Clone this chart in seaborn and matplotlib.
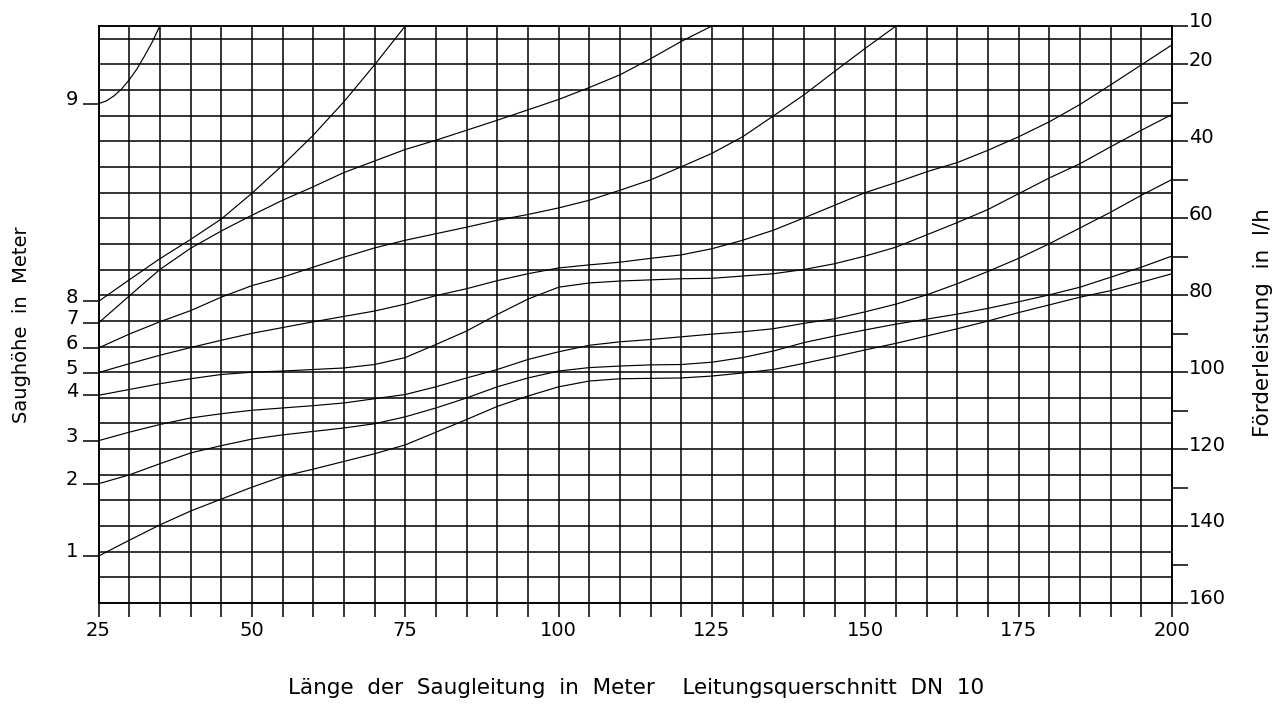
import matplotlib
matplotlib.use("Agg")
import matplotlib.pyplot as plt
import numpy as np
import pandas as pd
import seaborn as sns

# Pipe length in metres (x axis)
laenge = [25, 30, 35, 40, 45, 50, 55, 60, 65, 70, 75, 80, 85, 90, 95, 100,
          105, 110, 115, 120, 125, 130, 135, 140, 145, 150, 155, 160, 165,
          170, 175, 180, 185, 190, 195, 200]

# Delivery rate in l/h for each suction height (1 m ... 9 m)
foerder_1 = [147.8, 143.7, 139.7, 136.1, 133.0, 129.9, 127.1, 125.2, 123.2,
             121.2, 118.9, 115.6, 112.3, 108.9, 106.2, 103.8, 102.3, 101.7,
             101.6, 101.5, 101.0, 100.2, 99.3, 97.7, 96.0, 94.2, 92.5, 90.6,
             88.7, 86.7, 84.5, 82.5, 80.5, 78.8, 76.6, 74.4]
foerder_2 = [129.0, 126.7, 123.8, 121.0, 119.1, 117.4, 116.3, 115.4, 114.5,
             113.4, 111.6, 109.3, 106.7, 103.8, 101.5, 99.7, 98.8, 98.4,
             98.1, 98.0, 97.4, 96.2, 94.5, 92.3, 90.6, 89.0, 87.5, 86.2,
             84.9, 83.4, 81.7, 79.9, 77.9, 75.3, 72.7, 69.8]
foerder_3 = [117.8, 115.6, 113.6, 111.9, 110.8, 109.9, 109.3, 108.7, 108.0,
             106.9, 105.8, 103.8, 101.5, 99.3, 96.7, 94.7, 93.0, 92.1, 91.5,
             90.8, 90.1, 89.5, 88.7, 87.3, 86.1, 84.3, 82.3, 79.9, 77.0,
             73.8, 70.4, 66.6, 62.5, 58.4, 54.0, 49.9]
foerder_4 = [106.0, 104.5, 103.0, 101.7, 100.6, 100.0, 99.7, 99.3, 98.9,
             98.0, 96.2, 92.8, 89.3, 85.0, 81.0, 77.9, 76.8, 76.3, 76.0,
             75.7, 75.6, 75.0, 74.4, 73.3, 71.8, 69.8, 67.5, 64.3, 61.1,
             57.7, 53.6, 49.5, 45.8, 41.4, 37.1, 33.0]
foerder_5 = [100.1, 97.8, 95.6, 93.6, 91.7, 89.9, 88.4, 86.9, 85.5, 84.1,
             82.3, 80.1, 78.3, 76.2, 74.4, 72.9, 72.1, 71.4, 70.4, 69.5,
             67.9, 65.7, 63.1, 59.9, 56.6, 53.3, 50.7, 47.9, 45.5, 42.3,
             38.8, 34.9, 30.4, 25.3, 20.1, 14.9]
foerder_6 = [93.7, 90.1, 86.9, 84.0, 80.5, 77.5, 75.3, 72.7, 70.1, 67.7,
             65.7, 64.0, 62.3, 60.5, 59.0, 57.3, 55.3, 52.7, 50.0, 46.6,
             43.1, 38.8, 33.4, 27.9, 21.8, 15.8, 10.0]
foerder_7 = [87.2, 80.2, 73.3, 67.8, 63.3, 59.2, 55.3, 51.8, 48.1, 45.1,
             42.1, 39.7, 37.1, 34.5, 31.8, 29.1, 26.0, 22.7, 18.5, 14.0, 10.0]
foerder_8 = [81.6, 76.0, 70.5, 65.5, 60.2, 53.5, 46.2, 38.4, 29.7, 20.1, 10.0]
laenge_9 = [25, 26.25, 27.5, 28.75, 30, 31.25, 32.5, 33.75, 35]
foerder_9 = [30.2, 29.5, 28.2, 26.4, 24.0, 21.2, 17.8, 14.2, 10.0]

hoehen = [1, 2, 3, 4, 5, 6, 7, 8, 9]
kurven = [foerder_1, foerder_2, foerder_3, foerder_4, foerder_5,
          foerder_6, foerder_7, foerder_8, foerder_9]

# Right-hand scale and x tick labels
foerder_ticks = [10, 20, 30, 40, 50, 60, 70, 80, 90, 100, 110, 120, 130, 140, 150, 160]
foerder_labels = ["10", "20", "", "40", "", "60", "", "80", "", "100", "", "120",
                  "", "140", "", "160"]
laenge_labels = [25, 50, 75, 100, 125, 150, 175, 200]

frames = []
for h, werte in zip(hoehen, kurven):
    xs = laenge_9 if h == 9 else laenge[:len(werte)]
    frames.append(pd.DataFrame({"laenge": xs, "foerder": werte, "hoehe": h}))
df = pd.concat(frames, ignore_index=True)

sns.set_theme(style="white")
plt.rcParams["font.family"] = ["DejaVu Sans"]
plt.rcParams["text.color"] = "black"

W, H = 1275, 704
fig = plt.figure(figsize=(W / 100, H / 100), dpi=100)
x0, x1, y0, y1 = 98.5, 1172, 26, 603
ax = fig.add_axes([x0 / W, 1 - y1 / H, (x1 - x0) / W, (y1 - y0) / H])

sns.lineplot(data=df, x="laenge", y="foerder", units="hoehe", estimator=None,
             sort=False, color="black", linewidth=0.85, ax=ax, legend=False)

ax.set_xlim(25, 200)
ax.set_ylim(160, 10)
ax.set_xlabel("")
ax.set_ylabel("")

lw_grid = 1.1
fs_tick = 14
# vertical grid every 5 m, labels every 25 m
ax.set_xticks(laenge_labels)
ax.set_xticklabels([str(v) for v in laenge_labels], fontsize=fs_tick)
ax.set_xticks(np.arange(25, 201, 5), minor=True)
ax.tick_params(axis="x", which="both", direction="out", length=10, width=lw_grid,
               color="black", labelcolor="black", pad=3.0, bottom=True)
ax.xaxis.grid(True, which="both", color="black", linewidth=lw_grid)

# horizontal grid every 20/3 l/h
ax.set_yticks(160 - np.arange(0, 23) * 20 / 3, minor=True)
starts = [k[0] for k in kurven]
ax.set_yticks(starts)
ax.set_yticklabels([])
ax.tick_params(axis="y", which="minor", length=0)
ax.tick_params(axis="y", which="major", direction="out", length=11.5, width=lw_grid,
               color="black", left=True)
ax.yaxis.grid(True, which="minor", color="black", linewidth=lw_grid)
ax.yaxis.grid(False, which="major")

for h, v in zip(hoehen, starts):
    ax.annotate(str(h), xy=(0, v), xycoords=("axes fraction", "data"),
                xytext=(-14.5, -1), textcoords="offset points",
                ha="right", va="baseline", fontsize=fs_tick, color="black")

ax2 = ax.twinx()
ax2.set_ylim(160, 10)
ax2.set_yticks(foerder_ticks)
ax2.set_yticklabels([])
ax2.tick_params(axis="y", direction="out", length=11.5, width=lw_grid,
                color="black", right=True)
for v, lab in zip(foerder_ticks, foerder_labels):
    if lab:
        ax2.annotate(lab, xy=(1, v), xycoords=("axes fraction", "data"),
                     xytext=(12.3, -1), textcoords="offset points",
                     ha="left", va="baseline", fontsize=fs_tick, color="black")

for a in (ax, ax2):
    for s in a.spines.values():
        s.set_visible(True)
        s.set_color("black")
        s.set_linewidth(lw_grid)

fig.text(22 / W, 1 - 325 / H, "Saughöhe  in  Meter", rotation=90,
         ha="center", va="center", fontsize=14)
fig.text(1263 / W, 1 - 323 / H, "Förderleistung  in  l/h", rotation=90,
         ha="center", va="center", fontsize=15.5)
fig.text(636 / W, 1 - 688 / H,
         "Länge  der  Saugleitung  in  Meter    Leitungsquerschnitt  DN  10",
         ha="center", va="center", fontsize=15.5)

fig.savefig("out.png", dpi=100, facecolor="white")
